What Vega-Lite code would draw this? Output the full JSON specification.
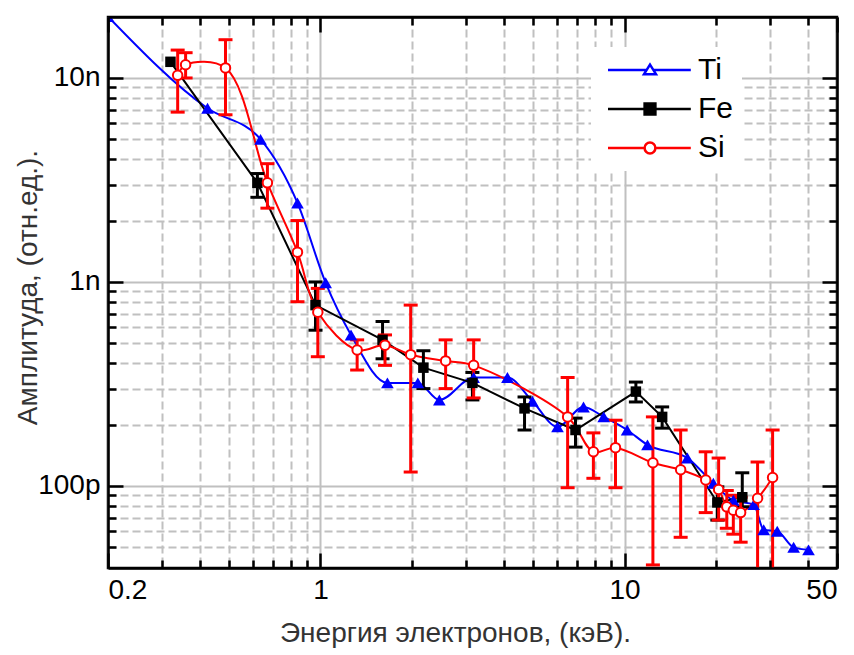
{
  "$schema": "https://vega.github.io/schema/vega-lite/v6.json",
  "width": 729,
  "height": 551,
  "autosize": "none",
  "padding": {"left": 108, "top": 17, "right": 17, "bottom": 87},
  "background": "white",
  "config": {
    "view": {"stroke": "black", "strokeWidth": 2.5},
    "font": "Liberation Sans",
    "axis": {
      "labelFont": "Liberation Sans", "labelFontSize": 28, "labelColor": "black",
      "tickColor": "black", "tickWidth": 2.5, "domainColor": "black", "domainWidth": 2.5,
      "gridColor": "#c0c0c0", "gridWidth": 2, "gridOpacity": 1,
      "titleFont": "Liberation Sans", "titleFontSize": 28, "titleFontWeight": "normal", "titleColor": "#333333"
    }
  },
  "datasets": {
    "ti": [
      {"E": 0.2, "A": 2.0e-8}, {"E": 0.425, "A": 7.1e-9}, {"E": 0.635, "A": 5.0e-9},
      {"E": 0.84, "A": 2.44e-9}, {"E": 1.04, "A": 9.9e-10}, {"E": 1.26, "A": 5.5e-10},
      {"E": 1.66, "A": 3.2e-10}, {"E": 2.09, "A": 3.2e-10}, {"E": 2.46, "A": 2.64e-10},
      {"E": 3.19, "A": 3.4e-10}, {"E": 4.12, "A": 3.4e-10}, {"E": 4.98, "A": 2.6e-10},
      {"E": 6.02, "A": 1.95e-10}, {"E": 7.33, "A": 2.44e-10}, {"E": 8.54, "A": 2.18e-10},
      {"E": 10.2, "A": 1.88e-10}, {"E": 11.9, "A": 1.59e-10}, {"E": 16.1, "A": 1.37e-10},
      {"E": 19.6, "A": 1.03e-10}, {"E": 22.8, "A": 8.5e-11}, {"E": 26.6, "A": 8.1e-11},
      {"E": 28.7, "A": 6.1e-11}, {"E": 31.8, "A": 6.0e-11}, {"E": 36.0, "A": 5.0e-11},
      {"E": 40.3, "A": 4.86e-11}
    ],
    "fe": [
      {"E": 0.321, "A": 1.2e-8},
      {"E": 0.62, "A": 3.06e-9, "lo": 2.6e-9, "hi": 3.4e-9},
      {"E": 0.963, "A": 7.7e-10, "lo": 5.8e-10, "hi": 1.0e-9},
      {"E": 1.6, "A": 5.2e-10, "lo": 4.2e-10, "hi": 6.4e-10},
      {"E": 2.18, "A": 3.8e-10, "lo": 3.0e-10, "hi": 4.6e-10},
      {"E": 3.16, "A": 3.2e-10, "lo": 2.64e-10, "hi": 3.6e-10},
      {"E": 4.69, "A": 2.4e-10, "lo": 1.88e-10, "hi": 2.73e-10},
      {"E": 6.9, "A": 1.88e-10, "lo": 1.55e-10, "hi": 2.15e-10},
      {"E": 10.9, "A": 2.9e-10, "lo": 2.58e-10, "hi": 3.23e-10},
      {"E": 13.3, "A": 2.18e-10, "lo": 1.92e-10, "hi": 2.44e-10},
      {"E": 20.2, "A": 8.3e-11, "lo": 6.8e-11, "hi": 9.9e-11},
      {"E": 24.4, "A": 8.8e-11, "lo": 7.9e-11, "hi": 1.16e-10}
    ],
    "si": [
      {"E": 0.339, "A": 1.03e-8, "lo": 6.8e-9, "hi": 1.37e-8},
      {"E": 0.36, "A": 1.16e-8, "lo": 1.0e-8, "hi": 1.33e-8},
      {"E": 0.487, "A": 1.12e-8, "lo": 6.6e-9, "hi": 1.54e-8},
      {"E": 0.669, "A": 3.06e-9, "lo": 2.3e-9, "hi": 3.8e-9},
      {"E": 0.84, "A": 1.4e-9, "lo": 8.0e-10, "hi": 2.0e-9},
      {"E": 0.98, "A": 7.1e-10, "lo": 4.3e-10, "hi": 9.3e-10},
      {"E": 1.32, "A": 4.64e-10, "lo": 3.7e-10, "hi": 5.2e-10},
      {"E": 1.63, "A": 4.9e-10, "lo": 3.9e-10, "hi": 5.5e-10},
      {"E": 1.98, "A": 4.4e-10, "lo": 1.17e-10, "hi": 7.7e-10},
      {"E": 2.58, "A": 4.1e-10, "lo": 3.0e-10, "hi": 5.2e-10},
      {"E": 3.19, "A": 3.9e-10, "lo": 2.7e-10, "hi": 5.2e-10},
      {"E": 6.5, "A": 2.18e-10, "lo": 9.8e-11, "hi": 3.4e-10},
      {"E": 7.9, "A": 1.47e-10, "lo": 1.09e-10, "hi": 1.82e-10},
      {"E": 9.34, "A": 1.54e-10, "lo": 9.8e-11, "hi": 2.1e-10},
      {"E": 12.4, "A": 1.3e-10, "lo": 4.1e-11, "hi": 2.18e-10},
      {"E": 15.3, "A": 1.2e-10, "lo": 5.6e-11, "hi": 1.88e-10},
      {"E": 18.5, "A": 1.07e-10, "lo": 7.4e-11, "hi": 1.47e-10},
      {"E": 20.4, "A": 9.6e-11, "lo": 6.8e-11, "hi": 1.37e-10},
      {"E": 21.7, "A": 7.9e-11, "lo": 6.2e-11, "hi": 9.5e-11},
      {"E": 22.8, "A": 7.6e-11, "lo": 5.8e-11, "hi": 9.0e-11},
      {"E": 24.1, "A": 7.4e-11, "lo": 5.3e-11, "hi": 8.8e-11},
      {"E": 27.4, "A": 8.7e-11, "lo": 3.0e-11, "hi": 1.31e-10},
      {"E": 30.7, "A": 1.1e-10, "lo": 3.0e-11, "hi": 1.88e-10}
    ]
  },
  "resolve": {"axis": {"x": "independent", "y": "independent"}},
  "layer": [
    {
      "data": {"name": "ti"},
      "mark": {"type": "line", "color": "#0000ff", "strokeWidth": 2, "interpolate": "monotone", "clip": true},
      "encoding": {
        "x": {"field": "E", "type": "quantitative", "scale": {"type": "log", "domain": [0.2, 50], "nice": false},
          "axis": {"orient": "bottom", "values": [0.2, 1, 10, 50], "labels": false, "ticks": false, "domain": false, "grid": true, "title": null}},
        "y": {"field": "A", "type": "quantitative", "scale": {"type": "log", "domain": [3.96e-11, 1.99e-8], "nice": false},
          "axis": {"orient": "left", "values": [1e-10, 1e-9, 1e-8], "labels": false, "ticks": false, "domain": false, "grid": true, "title": null}}
      }
    },
    {
      "data": {"name": "fe"},
      "mark": {"type": "line", "color": "black", "strokeWidth": 2},
      "encoding": {
        "x": {"field": "E", "type": "quantitative", "scale": {"type": "log", "domain": [0.2, 50], "nice": false},
          "axis": {"orient": "bottom", "values": [0.3, 0.4, 0.5, 0.6, 0.7, 0.8, 0.9, 2, 3, 4, 5, 6, 7, 8, 9, 20, 30, 40], "labels": false, "ticks": false, "grid": true, "gridDash": [8, 4], "title": null, "domain": false}},
        "y": {"field": "A", "type": "quantitative", "scale": {"type": "log", "domain": [3.96e-11, 1.99e-8], "nice": false},
          "axis": {"orient": "left", "values": [5e-11, 6e-11, 7e-11, 8e-11, 9e-11, 2e-10, 3e-10, 4e-10, 5e-10, 6e-10, 7e-10, 8e-10, 9e-10, 2e-9, 3e-9, 4e-9, 5e-9, 6e-9, 7e-9, 8e-9, 9e-9], "labels": false, "ticks": false, "grid": true, "gridDash": [8, 4], "title": null, "domain": false}}
      }
    },
    {
      "data": {"name": "si"},
      "mark": {"type": "line", "color": "#ff0000", "strokeWidth": 2, "interpolate": "catmull-rom"},
      "encoding": {
        "x": {"field": "E", "type": "quantitative", "scale": {"type": "log", "domain": [0.2, 50], "nice": false},
          "axis": {"orient": "top", "values": [0.2, 1, 10, 50], "labels": false, "tickSize": -15, "grid": false, "title": null, "zindex": 1}},
        "y": {"field": "A", "type": "quantitative", "scale": {"type": "log", "domain": [3.96e-11, 1.99e-8], "nice": false},
          "axis": {"orient": "right", "values": [1e-10, 1e-9, 1e-8], "labels": false, "tickSize": -15, "grid": false, "title": null, "zindex": 1}}
      }
    },
    {
      "data": {"name": "fe"},
      "mark": {"type": "rule", "color": "black", "strokeWidth": 3},
      "encoding": {
        "x": {"field": "E", "type": "quantitative", "scale": {"type": "log", "domain": [0.2, 50], "nice": false},
          "axis": {"orient": "top", "values": [0.3, 0.4, 0.5, 0.6, 0.7, 0.8, 0.9, 2, 3, 4, 5, 6, 7, 8, 9, 20, 30, 40], "labels": false, "tickSize": -8, "grid": false, "title": null, "domain": false, "zindex": 1}},
        "y": {"field": "lo", "type": "quantitative", "scale": {"type": "log", "domain": [3.96e-11, 1.99e-8], "nice": false},
          "axis": {"orient": "right", "values": [5e-11, 6e-11, 7e-11, 8e-11, 9e-11, 2e-10, 3e-10, 4e-10, 5e-10, 6e-10, 7e-10, 8e-10, 9e-10, 2e-9, 3e-9, 4e-9, 5e-9, 6e-9, 7e-9, 8e-9, 9e-9], "labels": false, "tickSize": -8, "grid": false, "title": null, "domain": false, "zindex": 1}},
        "y2": {"field": "hi"}
      }
    },
    {
      "data": {"name": "fe"},
      "mark": {"type": "tick", "orient": "horizontal", "color": "black", "size": 14, "thickness": 3, "opacity": 1},
      "encoding": {
        "x": {"field": "E", "type": "quantitative", "scale": {"type": "log", "domain": [0.2, 50], "nice": false},
          "axis": {"orient": "bottom", "values": [0.2, 1, 10, 50], "labelExpr": "datum.value < 0.5 ? '0.2' : datum.value < 5 ? '1' : datum.value < 20 ? '10' : '50'", "tickSize": -15, "labelPadding": 23, "grid": false, "zindex": 1, "title": "Энергия электронов, (кэВ).", "titleX": 347, "titleY": 51, "titleBaseline": "top"}},
        "y": {"field": "lo", "type": "quantitative", "scale": {"type": "log", "domain": [3.96e-11, 1.99e-8], "nice": false},
          "axis": {"orient": "left", "values": [1e-10, 1e-9, 1e-8], "labelExpr": "datum.value > 5e-9 ? '10n' : datum.value > 5e-10 ? '1n' : '100p'", "tickSize": -15, "labelPadding": 23, "grid": false, "zindex": 1, "title": "Амплитуда, (отн.ед.).", "titleX": -66, "titleY": 270, "titleBaseline": "bottom"}}
      }
    },
    {
      "data": {"name": "fe"},
      "mark": {"type": "tick", "orient": "horizontal", "color": "black", "size": 14, "thickness": 3, "opacity": 1},
      "encoding": {
        "x": {"field": "E", "type": "quantitative", "scale": {"type": "log", "domain": [0.2, 50], "nice": false},
          "axis": {"orient": "bottom", "values": [0.3, 0.4, 0.5, 0.6, 0.7, 0.8, 0.9, 2, 3, 4, 5, 6, 7, 8, 9, 20, 30, 40], "labels": false, "tickSize": -8, "grid": false, "title": null, "domain": false, "zindex": 1}},
        "y": {"field": "hi", "type": "quantitative", "scale": {"type": "log", "domain": [3.96e-11, 1.99e-8], "nice": false},
          "axis": {"orient": "left", "values": [5e-11, 6e-11, 7e-11, 8e-11, 9e-11, 2e-10, 3e-10, 4e-10, 5e-10, 6e-10, 7e-10, 8e-10, 9e-10, 2e-9, 3e-9, 4e-9, 5e-9, 6e-9, 7e-9, 8e-9, 9e-9], "labels": false, "tickSize": -8, "grid": false, "title": null, "domain": false, "zindex": 1}}
      }
    },
    {
      "data": {"name": "si"},
      "mark": {"type": "rule", "color": "#ff0000", "strokeWidth": 3, "clip": true},
      "encoding": {
        "x": {"field": "E", "type": "quantitative", "scale": {"type": "log", "domain": [0.2, 50], "nice": false}, "axis": null},
        "y": {"field": "lo", "type": "quantitative", "scale": {"type": "log", "domain": [3.96e-11, 1.99e-8], "nice": false}, "axis": null},
        "y2": {"field": "hi"}
      }
    },
    {
      "data": {"name": "si"},
      "mark": {"type": "tick", "orient": "horizontal", "color": "#ff0000", "size": 14, "thickness": 3, "opacity": 1, "clip": true},
      "encoding": {
        "x": {"field": "E", "type": "quantitative", "scale": {"type": "log", "domain": [0.2, 50], "nice": false}, "axis": null},
        "y": {"field": "lo", "type": "quantitative", "scale": {"type": "log", "domain": [3.96e-11, 1.99e-8], "nice": false}, "axis": null}
      }
    },
    {
      "data": {"name": "si"},
      "mark": {"type": "tick", "orient": "horizontal", "color": "#ff0000", "size": 14, "thickness": 3, "opacity": 1, "clip": true},
      "encoding": {
        "x": {"field": "E", "type": "quantitative", "scale": {"type": "log", "domain": [0.2, 50], "nice": false}, "axis": null},
        "y": {"field": "hi", "type": "quantitative", "scale": {"type": "log", "domain": [3.96e-11, 1.99e-8], "nice": false}, "axis": null}
      }
    },
    {
      "data": {"name": "ti"},
      "mark": {"type": "point", "shape": "triangle-up", "filled": true, "size": 160, "color": "#0000ff", "opacity": 1, "clip": true},
      "encoding": {
        "x": {"field": "E", "type": "quantitative", "scale": {"type": "log", "domain": [0.2, 50], "nice": false}, "axis": null},
        "y": {"field": "A", "type": "quantitative", "scale": {"type": "log", "domain": [3.96e-11, 1.99e-8], "nice": false}, "axis": null}
      }
    },
    {
      "data": {"name": "fe"},
      "mark": {"type": "point", "shape": "square", "filled": true, "size": 110, "color": "black", "opacity": 1},
      "encoding": {
        "x": {"field": "E", "type": "quantitative", "scale": {"type": "log", "domain": [0.2, 50], "nice": false}, "axis": null},
        "y": {"field": "A", "type": "quantitative", "scale": {"type": "log", "domain": [3.96e-11, 1.99e-8], "nice": false}, "axis": null}
      }
    },
    {
      "data": {"name": "si"},
      "mark": {"type": "point", "shape": "circle", "filled": true, "fill": "white", "stroke": "#ff0000", "strokeWidth": 2, "size": 90, "opacity": 1},
      "encoding": {
        "x": {"field": "E", "type": "quantitative", "scale": {"type": "log", "domain": [0.2, 50], "nice": false}, "axis": null},
        "y": {"field": "A", "type": "quantitative", "scale": {"type": "log", "domain": [3.96e-11, 1.99e-8], "nice": false}, "axis": null}
      }
    },
    {
      "data": {"name": "ti"},
      "transform": [{"filter": "false"}],
      "mark": {"type": "point", "filled": true, "opacity": 1, "strokeWidth": 2.5},
      "encoding": {
        "fill": {"field": "S", "type": "nominal", "scale": {"domain": ["Ti", "Fe", "Si"], "range": ["white", "black", "white"]},
          "legend": {"orient": "none", "legendX": 483, "legendY": 30, "title": null, "padding": 8, "fillColor": "white", "symbolSize": 144, "symbolStrokeWidth": 2.5, "labelFontSize": 30, "labelFont": "Liberation Sans", "labelColor": "black", "labelOffset": 69, "rowPadding": 9}},
        "stroke": {"field": "S", "type": "nominal", "scale": {"domain": ["Ti", "Fe", "Si"], "range": ["#0000ff", "black", "#ff0000"]},
          "legend": {"orient": "none", "legendX": 483, "legendY": 30, "title": null, "padding": 8, "fillColor": "white", "symbolSize": 144, "symbolStrokeWidth": 2.5, "labelFontSize": 30, "labelFont": "Liberation Sans", "labelColor": "black", "labelOffset": 69, "rowPadding": 9}},
        "shape": {"field": "S", "type": "nominal", "scale": {"domain": ["Ti", "Fe", "Si"], "range": [
            "M-1,0H5.45M6.55,0H12.8M6,-0.9L7,0.7H5Z",
            "M-1,0H12.8M5.1,-0.9H6.9V0.9H5.1Z",
            "M-1,0H5.1M6.9,0H12.8M6.9,0A0.9,0.9,0,1,1,5.1,0A0.9,0.9,0,1,1,6.9,0Z"]},
          "legend": {"orient": "none", "legendX": 483, "legendY": 30, "title": null, "padding": 8, "fillColor": "white", "symbolSize": 144, "symbolStrokeWidth": 2.5, "labelFontSize": 30, "labelFont": "Liberation Sans", "labelColor": "black", "labelOffset": 69, "rowPadding": 9}}
      }
    }
  ]
}
